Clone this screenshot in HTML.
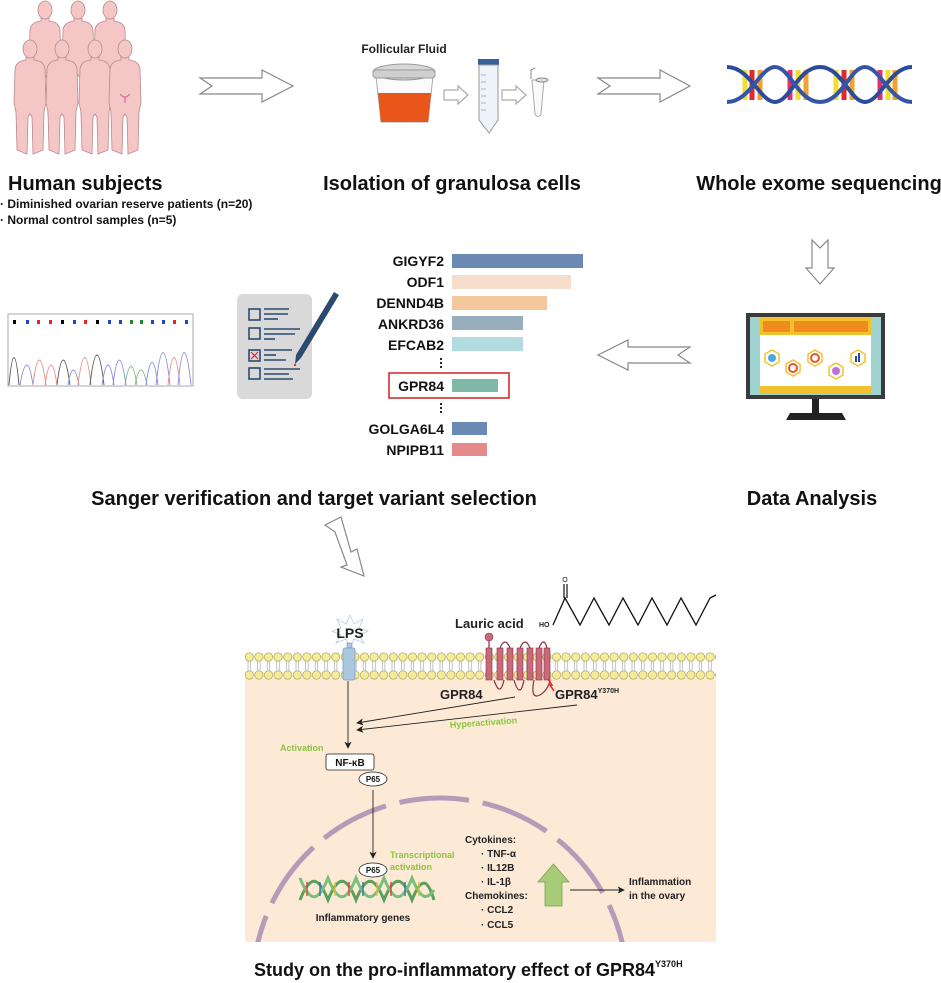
<!DOCTYPE html>
<html><head><meta charset="utf-8"><style>
html,body{margin:0;padding:0;background:#fff;width:941px;height:983px;overflow:hidden;}
svg{display:block;}
text{font-family:"Liberation Sans",Arial,sans-serif;}
</style></head><body>
<svg width="941" height="983" viewBox="0 0 941 983" xmlns="http://www.w3.org/2000/svg">
<defs>
<path id="fig" d="M-4,17 L-4,20 Q-14,21 -15,29 L-16,63 L-14,72 L-13,110 L-3,114 L-2,77 L0,74 L2,77 L3,114 L13,110 L14,72 L16,63 L15,29 Q14,21 4,20 L4,17 Z" fill="#f5c6c6" stroke="#b88a8a" stroke-width="0.8"/>
<g id="figure"><use href="#fig"/><ellipse cx="0" cy="9" rx="7" ry="9" fill="#f5c6c6" stroke="#b88a8a" stroke-width="0.8"/></g>
<marker id="ah" markerWidth="8" markerHeight="8" refX="7" refY="4" orient="auto"><path d="M0,0 L8,4 L0,8 L2,4 Z" fill="#222"/></marker>
<clipPath id="cellclip"><rect x="245" y="680" width="471" height="262"/></clipPath>
<pattern id="beadpat" x="244.5" y="652" width="9.6" height="28" patternUnits="userSpaceOnUse">
<circle cx="4.8" cy="5" r="4.2" fill="#f5ec9a" stroke="#a89a50" stroke-width="0.7"/>
<circle cx="4.8" cy="23" r="4.2" fill="#f5ec9a" stroke="#a89a50" stroke-width="0.7"/>
<line x1="3.5" y1="9" x2="3.5" y2="19" stroke="#999" stroke-width="0.6"/>
<line x1="6" y1="9" x2="6" y2="19" stroke="#999" stroke-width="0.6"/>
</pattern>
</defs>

<use href="#figure" x="45" y="1"/><use href="#figure" x="78" y="1"/><use href="#figure" x="110" y="1"/>
<use href="#figure" x="30" y="40"/><use href="#figure" x="62" y="40"/><use href="#figure" x="95" y="40"/><use href="#figure" x="125" y="40"/>
<path d="M120,94 q5,6 10,0 M125,97 l0,6" stroke="#d07090" stroke-width="1.2" fill="none"/>

<g fill="#fff" stroke="#888" stroke-width="1.2">
<path d="M200,78 L262,78 L262,70 L293,86 L262,102 L262,94 L200,94 L212,86 Z"/>
<path d="M598,78 L660,78 L660,70 L690,86 L660,102 L660,94 L598,94 L610,86 Z"/>
<path d="M690,347 L628,347 L628,340 L598,355 L628,370 L628,363 L690,363 L678,355 Z"/>
<path d="M812,240 L812,268 L806,268 L820,284 L834,268 L828,268 L828,240 L820,248 Z"/>
<path d="M325,525 L341,517 L351,552 L357,549 L364,576 L341,567 L347,565 L335,532 Z"/>
<path d="M444,90 L458,90 L458,86 L468,95 L458,104 L458,100 L444,100 Z" stroke="#aaa"/>
<path d="M502,90 L516,90 L516,86 L526,95 L516,104 L516,100 L502,100 Z" stroke="#aaa"/>
</g>

<text x="404" y="53" font-size="12" font-weight="bold" text-anchor="middle" fill="#222">Follicular Fluid</text>
<path d="M376,76 L433,76 L428,122 L381,122 Z" fill="#fbfbfb" stroke="#aaa"/>
<path d="M378,93 L431,93 L428,122 L381,122 Z" fill="#e8561a"/>
<ellipse cx="404" cy="72" rx="31" ry="8" fill="#d8d8d8" stroke="#999"/>
<rect x="373" y="70" width="62" height="8" rx="3" fill="#cfcfcf" stroke="#999"/>
<rect x="478" y="59" width="21" height="6" fill="#3a5f9a"/>
<path d="M479,65 L498,65 L498,120 L489,133 L479,120 Z" fill="#eef3fa" stroke="#999"/>
<g stroke="#889" stroke-width="0.6"><line x1="481" y1="75" x2="486" y2="75"/><line x1="481" y1="82" x2="486" y2="82"/><line x1="481" y1="89" x2="486" y2="89"/><line x1="481" y1="96" x2="486" y2="96"/><line x1="481" y1="103" x2="486" y2="103"/><line x1="481" y1="110" x2="486" y2="110"/></g>
<path d="M532,80 L544,80 L541,114 Q538,119 535,114 Z" fill="#fafafa" stroke="#aaa"/>
<path d="M531,79 L531,70 L535,68" fill="none" stroke="#888"/>
<ellipse cx="542" cy="80" rx="6" ry="2" fill="#ddd" stroke="#888"/>

<g>
<g stroke-width="5">
<line x1="745" y1="70" x2="745" y2="100" stroke="#f0e030"/><line x1="752" y1="70" x2="752" y2="100" stroke="#e02a2a"/><line x1="760" y1="70" x2="760" y2="100" stroke="#f2a030"/>
<line x1="790" y1="70" x2="790" y2="100" stroke="#e03070"/><line x1="798" y1="70" x2="798" y2="100" stroke="#f0e030"/><line x1="806" y1="70" x2="806" y2="100" stroke="#f2a030"/>
<line x1="836" y1="70" x2="836" y2="100" stroke="#f0e030"/><line x1="844" y1="70" x2="844" y2="100" stroke="#e02a2a"/><line x1="852" y1="70" x2="852" y2="100" stroke="#f2a030"/>
<line x1="880" y1="70" x2="880" y2="100" stroke="#e03070"/><line x1="888" y1="70" x2="888" y2="100" stroke="#f0e030"/><line x1="895" y1="70" x2="895" y2="100" stroke="#f2a030"/>
</g>
<path d="M727,67 C750,67 760,102 775,102 C790,102 798,67 820,67 C842,67 850,102 865,102 C880,102 890,67 912,67" fill="none" stroke="#2a4c9a" stroke-width="4"/>
<path d="M727,102 C750,102 760,67 775,67 C790,67 798,102 820,102 C842,102 850,67 865,67 C880,67 890,102 912,102" fill="none" stroke="#3556a8" stroke-width="4"/>
</g>

<text x="8" y="190" font-size="20" font-weight="bold" fill="#111">Human subjects</text>
<text x="0" y="208" font-size="12" font-weight="bold" fill="#111">· Diminished ovarian reserve patients (n=20)</text>
<text x="0" y="224" font-size="12" font-weight="bold" fill="#111">· Normal control samples (n=5)</text>
<text x="452" y="190" font-size="20" font-weight="bold" fill="#111" text-anchor="middle">Isolation of granulosa cells</text>
<text x="819" y="190" font-size="20" font-weight="bold" fill="#111" text-anchor="middle">Whole exome sequencing</text>

<rect x="8" y="314" width="185" height="72" fill="#fff" stroke="#aaa"/>
<g fill="none" stroke-width="0.9">
<path d="M9,385 Q14,330 19,385" stroke="#555"/><path d="M20,385 Q27,345 33,385" stroke="#88d"/><path d="M33,385 Q39,335 46,385" stroke="#e88"/><path d="M45,385 Q51,345 57,385" stroke="#e88"/>
<path d="M57,385 Q63,335 70,385" stroke="#555"/><path d="M68,385 Q73,355 79,385" stroke="#88d"/><path d="M78,385 Q85,330 91,385" stroke="#e88"/><path d="M90,385 Q97,325 104,385" stroke="#555"/>
<path d="M102,385 Q108,345 114,385" stroke="#88d"/><path d="M113,385 Q119,335 126,385" stroke="#88d"/><path d="M125,385 Q131,348 137,385" stroke="#7b7"/><path d="M135,385 Q141,355 147,385" stroke="#7b7"/>
<path d="M146,385 Q152,340 158,385" stroke="#88d"/><path d="M156,385 Q163,320 170,385" stroke="#88d"/><path d="M168,385 Q174,330 180,385" stroke="#e88"/><path d="M178,385 Q184,320 191,385" stroke="#88d"/>
</g>
<g><rect x="13" y="320" width="3" height="4" fill="#000"/><rect x="26" y="320" width="3" height="4" fill="#24c"/><rect x="37" y="320" width="3" height="4" fill="#e22"/><rect x="49" y="320" width="3" height="4" fill="#e22"/><rect x="61" y="320" width="3" height="4" fill="#000"/><rect x="73" y="320" width="3" height="4" fill="#24c"/><rect x="84" y="320" width="3" height="4" fill="#e22"/><rect x="96" y="320" width="3" height="4" fill="#000"/><rect x="108" y="320" width="3" height="4" fill="#24c"/><rect x="119" y="320" width="3" height="4" fill="#24c"/><rect x="130" y="320" width="3" height="4" fill="#283"/><rect x="140" y="320" width="3" height="4" fill="#283"/><rect x="151" y="320" width="3" height="4" fill="#24c"/><rect x="162" y="320" width="3" height="4" fill="#24c"/><rect x="173" y="320" width="3" height="4" fill="#e22"/><rect x="185" y="320" width="3" height="4" fill="#24c"/></g>

<rect x="237" y="294" width="75" height="105" rx="6" fill="#d9d9d9"/>
<g fill="none" stroke="#2b4a70" stroke-width="1.6">
<rect x="249" y="309" width="11" height="11"/><rect x="249" y="328" width="11" height="11"/><rect x="249" y="350" width="11" height="11"/><rect x="249" y="368" width="11" height="11"/>
</g>
<path d="M251,352 L258,359 M258,352 L251,359" stroke="#e23" stroke-width="1.2"/>
<g stroke="#2b4a70" stroke-width="1.6">
<line x1="264" y1="309" x2="289" y2="309"/><line x1="264" y1="314" x2="288" y2="314"/><line x1="264" y1="319" x2="278" y2="319"/>
<line x1="264" y1="329" x2="300" y2="329"/><line x1="264" y1="334" x2="295" y2="334"/><line x1="264" y1="339" x2="275" y2="339"/>
<line x1="264" y1="350" x2="292" y2="350"/><line x1="264" y1="355" x2="276" y2="355"/><line x1="264" y1="360" x2="286" y2="360"/>
<line x1="264" y1="369" x2="300" y2="369"/><line x1="264" y1="374" x2="289" y2="374"/><line x1="264" y1="379" x2="293" y2="379"/>
</g>
<path d="M334,292 L339,295 L301,358 L296,355 Z" fill="#2b4a70"/>
<path d="M296,355 L301,358 L295,364 Z" fill="#2b4a70"/><circle cx="295" cy="365" r="1.2" fill="#e33"/>

<g font-size="14" font-weight="bold" fill="#111" text-anchor="end">
<text x="444" y="266">GIGYF2</text><text x="444" y="287">ODF1</text><text x="444" y="308">DENND4B</text><text x="444" y="329">ANKRD36</text><text x="444" y="350">EFCAB2</text>
<text x="444" y="391">GPR84</text><text x="444" y="434">GOLGA6L4</text><text x="444" y="455">NPIPB11</text>
</g>
<rect x="452" y="254" width="131" height="14" fill="#6a8ab3"/>
<rect x="452" y="275" width="119" height="14" fill="#f5dfcc"/>
<rect x="452" y="296" width="95" height="14" fill="#f4c89c"/>
<rect x="452" y="316" width="71" height="14" fill="#97afbd"/>
<rect x="452" y="337" width="71" height="14" fill="#b2dde0"/>
<rect x="389" y="373" width="120" height="25" fill="none" stroke="#d42020" stroke-width="1.5"/>
<rect x="452" y="379" width="46" height="13" fill="#7fb8a6"/>
<rect x="452" y="422" width="35" height="13" fill="#6a8ab3"/>
<rect x="452" y="443" width="35" height="13" fill="#e48a88"/>
<g fill="#111"><circle cx="441" cy="359" r="1.1"/><circle cx="441" cy="363" r="1.1"/><circle cx="441" cy="367" r="1.1"/><circle cx="441" cy="404" r="1.1"/><circle cx="441" cy="408" r="1.1"/><circle cx="441" cy="412" r="1.1"/></g>

<rect x="746" y="313" width="139" height="86" fill="#3a3a3a"/>
<rect x="750" y="317" width="131" height="78" fill="#9fd3d0"/>
<rect x="760" y="318" width="111" height="76" fill="#fff"/>
<rect x="760" y="318" width="111" height="17" fill="#f4c12e"/><rect x="763" y="321" width="27" height="11" fill="#f08c1e"/><rect x="794" y="321" width="74" height="11" fill="#f08c1e"/>
<rect x="760" y="386" width="111" height="8" fill="#f4c12e"/>
<g stroke="#f4c12e" stroke-width="1.5" fill="#fff">
<polygon points="772,350 779,354 779,362 772,366 765,362 765,354"/><polygon points="793,360 800,364 800,372 793,376 786,372 786,364"/><polygon points="815,350 822,354 822,362 815,366 808,362 808,354"/><polygon points="836,363 843,367 843,375 836,379 829,375 829,367"/><polygon points="858,350 865,354 865,362 858,366 851,362 851,354"/>
</g>
<circle cx="772" cy="358" r="4" fill="#4aa8e0"/><circle cx="793" cy="368" r="4" fill="none" stroke="#e8562a" stroke-width="2"/><circle cx="815" cy="358" r="4" fill="none" stroke="#e8562a" stroke-width="2"/><circle cx="836" cy="371" r="4" fill="#c070d0"/>
<rect x="855" y="356" width="2" height="6" fill="#2b4a9a"/><rect x="858" y="353" width="2" height="9" fill="#2b4a9a"/>
<rect x="812" y="399" width="7" height="14" fill="#222"/>
<path d="M786,420 L790,413 L842,413 L846,420 Z" fill="#222"/>

<text x="314" y="505" font-size="20" font-weight="bold" fill="#111" text-anchor="middle">Sanger verification and target variant selection</text>
<text x="812" y="505" font-size="20" font-weight="bold" fill="#111" text-anchor="middle">Data Analysis</text>

<rect x="245" y="678" width="471" height="264" fill="#fce9d6"/>
<g clip-path="url(#cellclip)">
<circle cx="440" cy="985" r="187" fill="none" stroke="#b79ab8" stroke-width="5" stroke-dasharray="70,14"/>
</g>
<rect x="245" y="652" width="471" height="28" fill="url(#beadpat)"/>
<polygon points="350,615 354,624 363,619 359,628 368,631 359,635 364,643 354,639 350,648 346,639 336,643 341,635 332,631 341,628 337,619 346,624" fill="#fff" stroke="#bcd" stroke-width="0.8"/>
<text x="350" y="638" font-size="14" font-weight="bold" fill="#222" text-anchor="middle">LPS</text>
<rect x="347" y="643" width="5" height="5" fill="#a9c8e0" stroke="#7a9ab8" stroke-width="0.6"/>
<rect x="343" y="648" width="12" height="32" rx="2" fill="#a9c8e0" stroke="#7a9ab8" stroke-width="0.7"/>
<text x="455" y="628" font-size="13" font-weight="bold" fill="#222">Lauric acid</text>
<text x="539" y="627" font-size="7" font-weight="bold" fill="#222">HO</text>
<polyline points="553,625 565,598 580,625 594,598 609,625 623,598 638,625 652,598 667,625 681,598 696,625 710,598 716,595" fill="none" stroke="#111" stroke-width="1.3"/>
<line x1="564" y1="598" x2="564" y2="584" stroke="#111" stroke-width="1.2"/><line x1="567" y1="598" x2="567" y2="584" stroke="#111" stroke-width="1.2"/>
<text x="565" y="582" font-size="7" fill="#111" text-anchor="middle">O</text>
<g fill="#c86a7a" stroke="#8a3040" stroke-width="0.6">
<rect x="486" y="648" width="6" height="32"/><rect x="497" y="648" width="6" height="32"/><rect x="507" y="648" width="6" height="32"/><rect x="517" y="648" width="6" height="32"/><rect x="527" y="648" width="6" height="32"/><rect x="536" y="648" width="6" height="32"/><rect x="544" y="648" width="6" height="32"/>
</g>
<path d="M489,648 L489,640 M500,648 Q505,636 510,648 M520,648 Q525,636 530,648 M539,648 Q544,636 547,648 M494,680 Q500,698 504,680 M514,680 Q520,700 524,680 M534,680 Q530,700 540,695 Q548,690 550,680" fill="none" stroke="#8a3040" stroke-width="1.2"/>
<circle cx="489" cy="637" r="4" fill="#c86a7a" stroke="#8a3040" stroke-width="0.6"/>
<path d="M548,679 l4,6 l-2,0 l4,6" stroke="#e22" stroke-width="1.5" fill="none"/>
<text x="440" y="699" font-size="13" font-weight="bold" fill="#222">GPR84</text>
<text x="555" y="699" font-size="13" font-weight="bold" fill="#222">GPR84<tspan font-size="7" dy="-6">Y370H</tspan></text>
<line x1="515" y1="697" x2="357" y2="723" stroke="#222" stroke-width="0.9" marker-end="url(#ah)"/>
<line x1="577" y1="705" x2="357" y2="730" stroke="#222" stroke-width="0.9" marker-end="url(#ah)"/>
<text x="450" y="728" font-size="9" font-weight="bold" fill="#8cc43c" transform="rotate(-4 450 728)">Hyperactivation</text>
<line x1="348" y1="681" x2="348" y2="748" stroke="#222" stroke-width="0.9" marker-end="url(#ah)"/>
<text x="280" y="751" font-size="9" font-weight="bold" fill="#8cc43c">Activation</text>
<rect x="326" y="754" width="48" height="16" rx="2" fill="#fff" stroke="#222" stroke-width="0.8"/>
<text x="350" y="766" font-size="10" font-weight="bold" fill="#111" text-anchor="middle">NF-κB</text>
<ellipse cx="373" cy="779" rx="14" ry="7" fill="#fff" stroke="#222" stroke-width="0.8"/>
<text x="373" y="782" font-size="8" font-weight="bold" fill="#111" text-anchor="middle">P65</text>
<line x1="373" y1="790" x2="373" y2="858" stroke="#222" stroke-width="0.9" marker-end="url(#ah)"/>
<path d="M300,900 C310,875 318,875 328,900 C338,875 346,875 356,900 C366,875 374,875 384,900 C394,875 402,875 412,900 C422,875 428,880 434,900" fill="none" stroke="#5aa05a" stroke-width="3"/>
<path d="M300,878 C310,903 318,903 328,878 C338,903 346,903 356,878 C366,903 374,903 384,878 C394,903 402,903 412,878 C422,903 428,898 434,890" fill="none" stroke="#78c078" stroke-width="3"/>
<g stroke-width="1.3"><line x1="307" y1="882" x2="307" y2="896" stroke="#e33"/><line x1="320" y1="882" x2="320" y2="896" stroke="#36c"/><line x1="335" y1="882" x2="335" y2="896" stroke="#eb3"/><line x1="349" y1="882" x2="349" y2="896" stroke="#e33"/><line x1="363" y1="882" x2="363" y2="896" stroke="#36c"/><line x1="377" y1="882" x2="377" y2="896" stroke="#eb3"/><line x1="391" y1="882" x2="391" y2="896" stroke="#e33"/><line x1="405" y1="882" x2="405" y2="896" stroke="#36c"/><line x1="419" y1="882" x2="419" y2="896" stroke="#eb3"/></g>
<ellipse cx="373" cy="870" rx="14" ry="7" fill="#fff" stroke="#222" stroke-width="0.8"/>
<text x="373" y="873" font-size="8" font-weight="bold" fill="#111" text-anchor="middle">P65</text>
<text x="390" y="858" font-size="9" font-weight="bold" fill="#8cc43c">Transcriptional</text>
<text x="390" y="870" font-size="9" font-weight="bold" fill="#8cc43c">activation</text>
<text x="363" y="921" font-size="10" font-weight="bold" fill="#222" text-anchor="middle">Inflammatory genes</text>
<g font-size="10" font-weight="bold" fill="#222">
<text x="465" y="843">Cytokines:</text><text x="481" y="857">· TNF-α</text><text x="481" y="871">· IL12B</text><text x="481" y="885">· IL-1β</text>
<text x="465" y="899">Chemokines:</text><text x="481" y="913">· CCL2</text><text x="481" y="928">· CCL5</text>
</g>
<path d="M545,882 L545,906 L562,906 L562,882 L569,882 L553.5,864 L538,882 Z" fill="#a6cc78" stroke="#7aa050" stroke-width="0.8"/>
<line x1="570" y1="890" x2="624" y2="890" stroke="#222" stroke-width="0.9" marker-end="url(#ah)"/>
<text x="629" y="885" font-size="10" font-weight="bold" fill="#222">Inflammation</text>
<text x="629" y="899" font-size="10" font-weight="bold" fill="#222">in the ovary</text>

<text x="254" y="976" font-size="18" font-weight="bold" fill="#111">Study on the pro-inflammatory effect of GPR84<tspan font-size="9" dy="-9">Y370H</tspan></text>
</svg>
</body></html>
